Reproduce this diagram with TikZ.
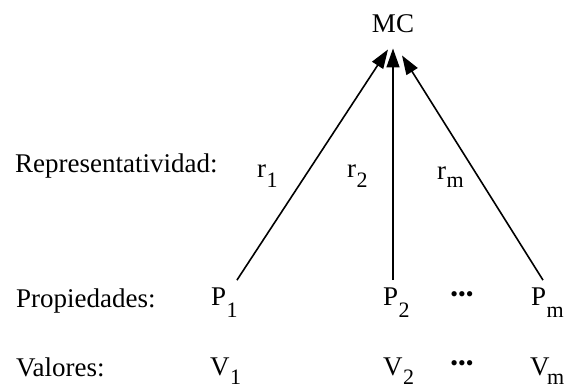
\documentclass[tikz,border=0pt]{standalone}
\usepackage{fontspec}
\setmainfont{Liberation Serif}
\usepackage{tikz}
\usetikzlibrary{arrows.meta,calc}
\newcommand{\idx}[2][10pt]{\kern0.5pt\raisebox{-#1}{\fontsize{22}{22}\selectfont #2}}
\tikzset{
  dtext/.style={anchor=base west, inner sep=0pt, font=\fontsize{27}{32}\selectfont},
  dtop/.style={anchor=base, inner sep=0pt, font=\fontsize{27}{32}\selectfont},
  ddots/.style={anchor=center, inner sep=0pt, font=\fontsize{22}{22}\selectfont},
  darrow/.style={-{Triangle[length=19pt,width=13pt]}, line width=1.6pt}
}
\begin{document}
\begin{tikzpicture}[x=1pt,y=-1pt]
\useasboundingbox (0,0) rectangle (564,389);
\node[dtop] (mc) at (393,32) {MC};

\node[dtext] (lrep) at (15,172) {Representatividad:};
\node[dtext] (lprop) at (16,307) {Propiedades:};
\node[dtext] (lval) at (16,376) {Valores:};

\node[dtext] (r1) at (257,177) {r\idx{1}};
\node[dtext] (r2) at (347,177) {r\idx{2}};
\node[dtext] (rm) at (437,179) {r\idx[8pt]{m}};

\node[dtext] (p1) at (211,305) {P\idx[12pt]{1}};
\node[dtext] (p2) at (383,305) {P\idx[12pt]{2}};
\node[dtext] (pm) at (531,305) {P\idx[12pt]{m}};
\node[ddots] (dp) at (462,297) {•••};

\node[dtext] (v1) at (210,375) {V\idx[9pt]{1}};
\node[dtext] (v2) at (383,375) {V\idx[9pt]{2}};
\node[dtext] (vm) at (530,375) {V\kern-3pt\idx[9pt]{m}};
\node[ddots] (dv) at (462,366) {•••};

\draw[darrow] ($(p1.north east)+(-1,-7)$) -- ($(mc.south)+(-5,17)$);
\draw[darrow] ($(p2.north west)+(10,-7)$) -- ($(mc.south)+(0,16)$);
\draw[darrow] ($(pm.north west)+(12,-7)$) -- ($(mc.south)+(9,23)$);
\end{tikzpicture}
\end{document}
